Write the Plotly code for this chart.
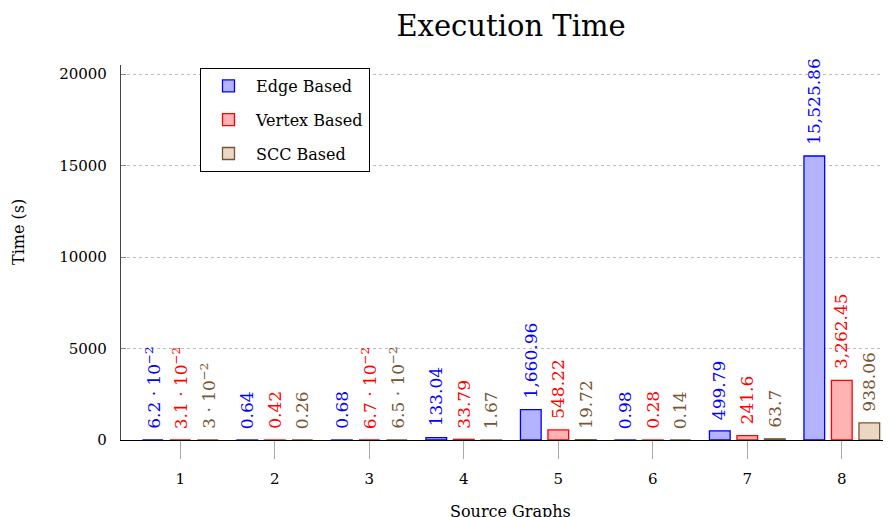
import plotly.graph_objects as go

# ---- data ----
categories = [1, 2, 3, 4, 5, 6, 7, 8]
edge = [0.062, 0.64, 0.68, 133.04, 1660.96, 0.98, 499.79, 15525.86]
vertex = [0.031, 0.42, 0.067, 33.79, 548.22, 0.28, 241.6, 3262.45]
scc = [0.03, 0.26, 0.065, 1.67, 19.72, 0.14, 63.7, 938.06]
edge_labels = ["6.2 · 10<sup>−2</sup>", "0.64", "0.68", "133.04", "1,660.96", "0.98", "499.79", "15,525.86"]
vertex_labels = ["3.1 · 10<sup>−2</sup>", "0.42", "6.7 · 10<sup>−2</sup>", "33.79", "548.22", "0.28", "241.6", "3,262.45"]
scc_labels = ["3 · 10<sup>−2</sup>", "0.26", "6.5 · 10<sup>−2</sup>", "1.67", "19.72", "0.14", "63.7", "938.06"]
series_names = ["Edge Based", "Vertex Based", "SCC Based"]
y_ticks = [0, 5000, 10000, 15000, 20000]

FONT = "DejaVu Serif"
fills = ["rgb(179,179,255)", "rgb(255,179,179)", "rgb(234,216,196)"]
edges_c = ["rgb(0,0,255)", "rgb(255,0,0)", "rgb(120,85,48)"]
offsets = [-0.291, 0.0, 0.291]
bar_w = 0.219

# page body has an 8px margin: figure is drawn from (8, 8)
W, H = 883, 509
L, T = 113, 57
PW, PH = W - L, 375
B = H - T - PH


def px(xs):  # screen x -> paper x
    return (xs - 8 - L) / PW


def py(ys):  # screen y -> paper y
    return (T + PH - (ys - 8)) / PH


series = [edge, vertex, scc]
labels = [edge_labels, vertex_labels, scc_labels]

fig = go.Figure()
for k in range(3):
    fig.add_trace(go.Bar(
        x=categories, y=series[k], name=series_names[k],
        width=bar_w, offset=offsets[k] - bar_w / 2,
        marker=dict(color=fills[k], line=dict(color=edges_c[k], width=1.3)),
        legendgroup=series_names[k],
        hoverinfo="skip",
    ))
    for i, c in enumerate(categories):
        fig.add_annotation(
            x=c + offsets[k], y=series[k][i], xref="x", yref="y",
            text=labels[k][i], textangle=-90, showarrow=False,
            xanchor="center", yanchor="bottom", yshift=9,
            font=dict(family=FONT, size=17, color=edges_c[k]),
        )

fig.add_annotation(
    x=px(18), y=py(232), xref="paper", yref="paper", text="Time (s)", textangle=-90,
    xanchor="center", yanchor="middle",
    showarrow=False, font=dict(family=FONT, size=16, color="black"),
)
fig.add_annotation(
    x=px(510), y=py(511), xref="paper", yref="paper", text="Source Graphs",
    xanchor="center", yanchor="middle",
    showarrow=False, font=dict(family=FONT, size=16, color="black"),
)

fig.update_layout(
    width=W, height=H,
    margin=dict(l=L, r=0, t=T, b=B, autoexpand=False),
    paper_bgcolor="white", plot_bgcolor="white",
    barmode="overlay",
    title=dict(text="Execution Time", x=(511 - 8) / W, xanchor="center",
               y=1 - (26 - 8) / H, yanchor="middle",
               font=dict(family=FONT, size=29, color="black")),
    font=dict(family=FONT, color="black"),
    legend=dict(
        x=px(200), y=py(68), xanchor="left", yanchor="top",
        bordercolor="black", borderwidth=1, bgcolor="white",
        font=dict(family=FONT, size=16, color="black"),
        tracegroupgap=10, traceorder="grouped", itemwidth=45,
    ),
    xaxis=dict(
        range=[0.3725, 0.3725 + PW / 94.5],
        tickmode="array", tickvals=categories, ticktext=[str(c) for c in categories],
        showline=True, linecolor="black", linewidth=1.2,
        ticks="outside", ticklen=18, tickcolor="#aaaaaa", tickwidth=1.2,
        ticklabelstandoff=7,
        tickfont=dict(family=FONT, size=15, color="black"),
        showgrid=False, zeroline=False,
    ),
    yaxis=dict(
        range=[0, 20500],
        tickmode="array", tickvals=y_ticks, ticktext=[str(v) for v in y_ticks],
        showline=True, linecolor="#444444", linewidth=1.2,
        ticks="inside", ticklen=5, tickcolor="#888888",
        ticklabelstandoff=10,
        tickfont=dict(family=FONT, size=15, color="black"),
        showgrid=True, gridcolor="#bbbbbb", griddash="dot", gridwidth=1,
        zeroline=False,
    ),
)

fig.write_html("out.html")
